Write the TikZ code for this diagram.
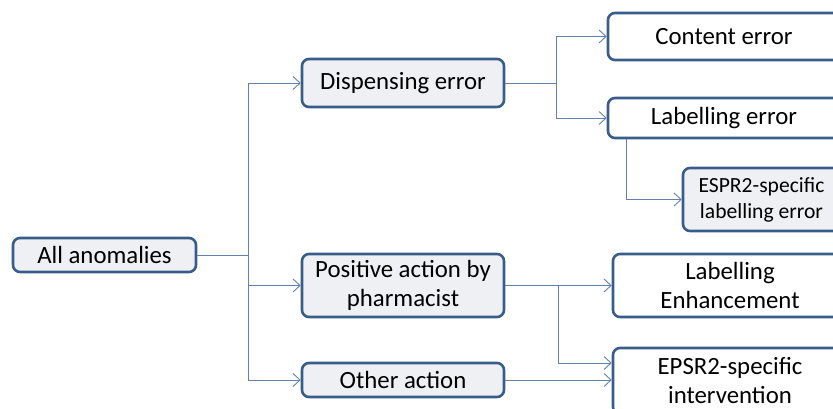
\documentclass[tikz,border=0pt]{standalone}
\usepackage{fontspec}
\setmainfont{Carlito}
\usepackage{tikz}
\usetikzlibrary{arrows.meta}
\definecolor{boxline}{RGB}{56,93,138}
\definecolor{boxfill}{RGB}{239,240,243}
\definecolor{linkline}{RGB}{98,128,178}

\begin{document}
\begin{tikzpicture}[x=1pt,y=1pt,
  box/.style={draw=boxline,line width=2.6pt,rounded corners=7pt,fill=boxfill,
    align=center,inner sep=2pt,font=\fontsize{24.8}{29}\selectfont},
  wbox/.style={box,fill=white},
  link/.style={draw=linkline,line width=0.9pt},
  arr/.style={link,-{Straight Barb[length=7pt,width=13pt,line width=0.9pt]}}]

\useasboundingbox (0,0) rectangle (833,-409);
\clip (0,0) rectangle (833,-409);

\node[box,minimum width=183,minimum height=34] (all) at (104.5,-255) {All anomalies};
\node[box,minimum width=202,minimum height=48] (disp) at (403,-83) {Dispensing error};
\node[box,minimum width=202,minimum height=63] (pos) at (403,-285.5) {Positive action by\\pharmacist};
\node[box,minimum width=202,minimum height=34] (other) at (403,-380) {Other action};
\node[wbox,minimum width=232,minimum height=47] (content) at (724,-36.5) {Content error};
\node[wbox,minimum width=232,minimum height=40] (lab) at (724,-118) {Labelling error};
\node[box,minimum width=157,minimum height=63,font=\fontsize{21.6}{26}\selectfont] (espr) at (761.5,-199.5) {ESPR2-specific\\labelling error};
\node[wbox,minimum width=234,minimum height=63] (enh) at (730,-285.5) {Labelling\\Enhancement};
\node[wbox,minimum width=234,minimum height=66] (int) at (730,-381) {EPSR2-specific\\intervention};

\coordinate (j1) at (248,-255);
\coordinate (j2) at (556,-83);
\coordinate (j3) at (558,-285.5);

\draw[link] (all.east) -- (j1);
\draw[arr] (j1) |- (disp.west);
\draw[arr] (j1) |- (pos.west);
\draw[arr] (j1) |- (other.west);
\draw[link] (disp.east) -- (j2);
\draw[arr] (j2) |- (content.west);
\draw[arr] (j2) |- (lab.west);
\draw[arr] ([xshift=20pt]lab.south west) |- (espr.west);
\draw[arr] (pos.east) -- (enh.west);
\draw[arr] (j3) |- ([yshift=18pt]int.west);
\draw[arr] (other.east) -- (other.east -| int.west);

\end{tikzpicture}
\end{document}
